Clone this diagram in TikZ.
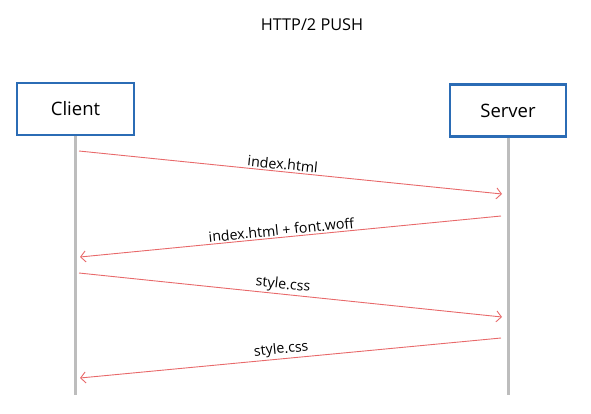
\documentclass[tikz,border=0pt]{standalone}
\usepackage{fontspec}
\setmainfont{Open Sans}
\usetikzlibrary{arrows.meta}
\definecolor{boxblue}{HTML}{2B6CB5}
\definecolor{msgred}{HTML}{E8696A}
\definecolor{lifegray}{HTML}{BDBDBD}
\tikzset{
  actor/.style={draw=boxblue, line width=2.4pt, fill=white, minimum width=116.5pt, minimum height=52pt, inner sep=0pt, font=\fontsize{18.5}{22}\selectfont},
  lifeline/.style={draw=lifegray, line width=3pt},
  msg/.style={draw=msgred, line width=0.9pt, -{Straight Barb[length=5pt,width=11pt,line width=0.9pt]}},
  msglabel/.style={font=\fontsize{14.2}{17}\selectfont, sloped, above, inner sep=1.5pt}
}
\begin{document}
\begin{tikzpicture}[x=1pt,y=-1pt]
\useasboundingbox (0,0) rectangle (591,413);
\node[font=\fontsize{16.3}{19}\selectfont] (title) at (312,25) {HTTP/2 PUSH};
\node[actor] (client) at (75.5,109) {Client};
\node[actor] (server) at (508,110.5) {Server};
\coordinate (cend) at (75.5,395);
\coordinate (send) at (508,395);
\draw[lifeline] (client.south) -- (cend);
\draw[lifeline] (server.south) -- (send);
\coordinate (a1s) at (79,151);  \coordinate (a1e) at (502,194);
\coordinate (a2s) at (501,216); \coordinate (a2e) at (80,257);
\coordinate (a3s) at (79,273);  \coordinate (a3e) at (502,317);
\coordinate (a4s) at (501,338); \coordinate (a4e) at (80,378);
\draw[msg] (a1s) -- node[msglabel, pos=0.48] (l1) {index.html} (a1e);
\draw[msg] (a2s) -- node[msglabel, pos=0.52] (l2) {index.html + font.woff} (a2e);
\draw[msg] (a3s) -- node[msglabel, pos=0.48] (l3) {style.css} (a3e);
\draw[msg] (a4s) -- node[msglabel, pos=0.52] (l4) {style.css} (a4e);
\end{tikzpicture}
\end{document}
